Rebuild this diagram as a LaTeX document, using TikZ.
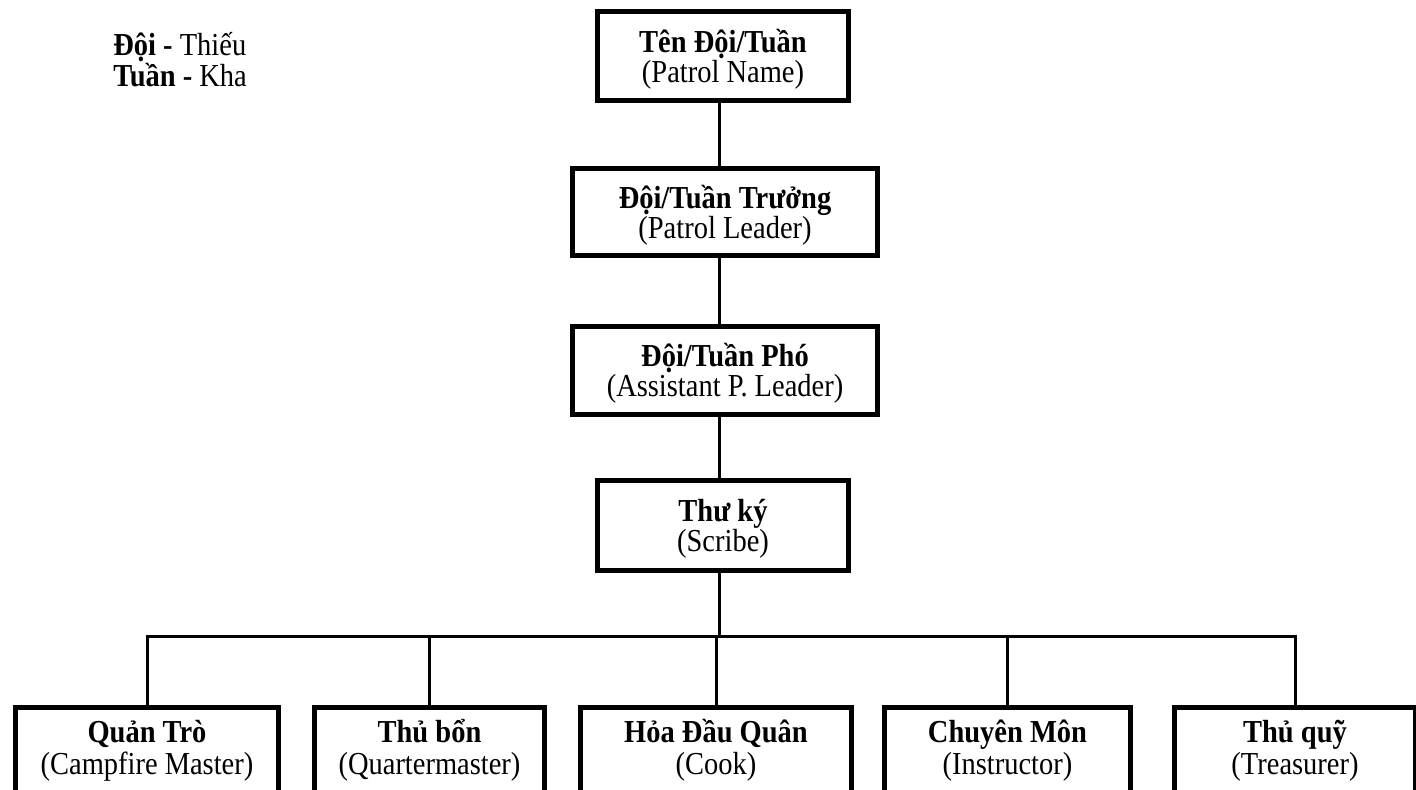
\documentclass[tikz,border=0pt]{standalone}
\usepackage{fontspec}
\setmainfont{Liberation Serif}[FakeStretch=0.89]
\newcommand{\roletext}[2]{\textbf{#1}\rule{0pt}{15pt}\\(#2)}
\tikzset{
  unit/.style={draw, line width=2.5pt, inner sep=0pt, align=center,
    font=\fontsize{16}{15}\selectfont},
  member/.style={unit, anchor=north, inner ysep=2.75pt, text depth=40pt,
    font=\fontsize{16}{16}\selectfont},
  link/.style={line width=1.5pt},
}
\begin{document}
\begin{tikzpicture}[x=0.5pt,y=-0.5pt]
  \useasboundingbox (0,0) rectangle (1416,789);
  \node[anchor=north west, inner sep=0pt, align=left,
    font=\fontsize{16}{14}\selectfont] (legend) at (113,25)
    {\textbf{Đội -} Thiếu\rule{0pt}{15pt}\\\textbf{Tuần -} Kha};
  % chain
  \node[unit, minimum width=125.5pt, minimum height=44.5pt] (name) at (723,56)
    {\roletext{Tên Đội/Tuần}{Patrol Name}};
  \node[unit, minimum width=152.5pt, minimum height=43.5pt] (leader) at (725,212)
    {\roletext{Đội/Tuần Trưởng}{Patrol Leader}};
  \node[unit, minimum width=152.5pt, minimum height=44pt] (assistant) at (725,370)
    {\roletext{Đội/Tuần Phó}{Assistant P. Leader}};
  \node[unit, minimum width=125.5pt, minimum height=45pt] (scribe) at (723,525)
    {\roletext{Thư ký}{Scribe}};
  % bottom row
  \node[member, minimum width=131.5pt] (campfire) at (147,704.5)
    {\roletext{Quản Trò}{Campfire Master}};
  \node[member, minimum width=115pt] (quarter) at (429.5,704.5)
    {\roletext{Thủ bổn}{Quartermaster}};
  \node[member, minimum width=135.5pt] (cook) at (716,704.5)
    {\roletext{Hỏa Đầu Quân}{Cook}};
  \node[member, minimum width=123pt] (instructor) at (1007.5,704.5)
    {\roletext{Chuyên Môn}{Instructor}};
  \node[member, minimum width=120.5pt] (treasurer) at (1295,704.5)
    {\roletext{Thủ quỹ}{Treasurer}};
  % links
  \coordinate (hub) at (719,636);
  \draw[link] (name.south -| hub) -- (leader.north -| hub);
  \draw[link] (leader.south -| hub) -- (assistant.north -| hub);
  \draw[link] (assistant.south -| hub) -- (scribe.north -| hub);
  \draw[link] (scribe.south -| hub) -- (hub);
  \draw[link] (campfire.north) |- (hub) -| (treasurer.north);
  \foreach \n in {quarter,cook,instructor}
    \draw[link] (\n.north) -- (\n.north |- hub);
\end{tikzpicture}
\end{document}
